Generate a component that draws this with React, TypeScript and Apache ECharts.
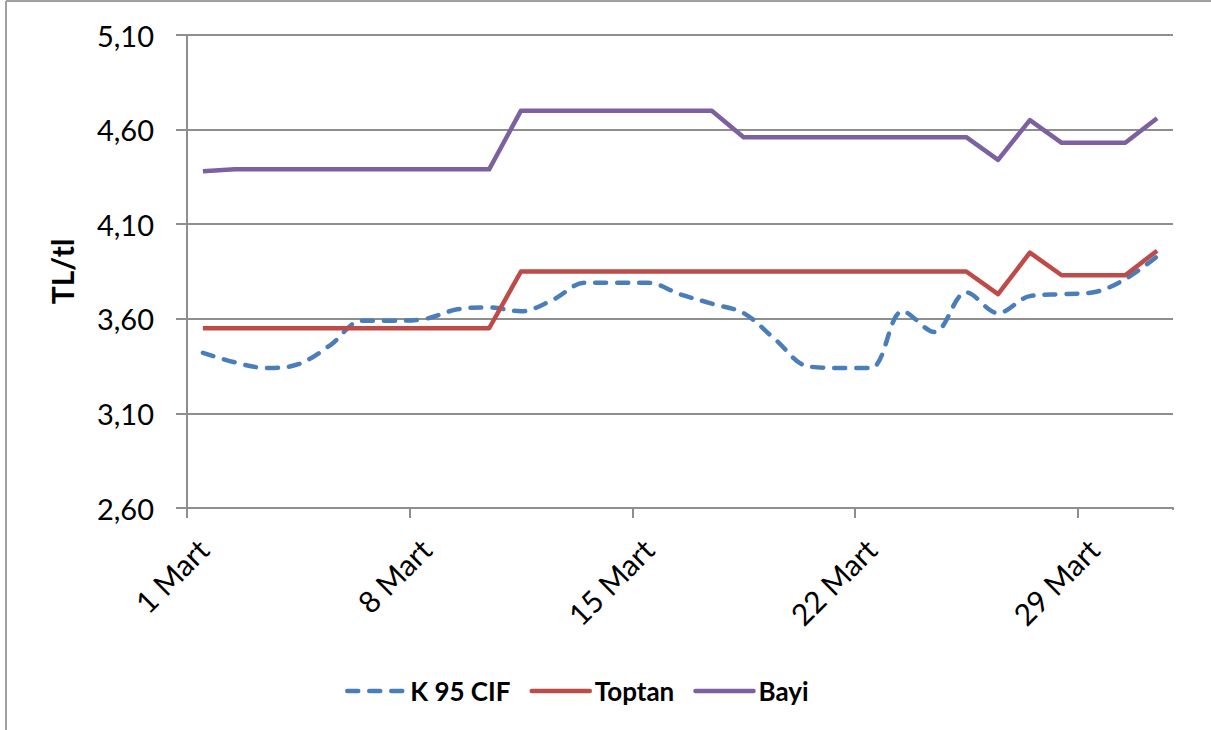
import React, { useEffect, useRef } from "react";
import * as echarts from "echarts";

const categories = [
  "1 Mart", "2 Mart", "3 Mart", "4 Mart", "5 Mart", "6 Mart", "7 Mart", "8 Mart",
  "9 Mart", "10 Mart", "11 Mart", "12 Mart", "13 Mart", "14 Mart", "15 Mart", "16 Mart",
  "17 Mart", "18 Mart", "19 Mart", "20 Mart", "21 Mart", "22 Mart", "23 Mart", "24 Mart",
  "25 Mart", "26 Mart", "27 Mart", "28 Mart", "29 Mart", "30 Mart", "31 Mart",
];

const k95Cif = [
  3.42, 3.37, 3.34, 3.36, 3.46, 3.59, 3.59, 3.6, 3.65, 3.66, 3.64, 3.7, 3.79, 3.79, 3.79, 3.73,
  3.68, 3.63, 3.49, 3.35, 3.34, 3.34, 3.64, 3.53, 3.74, 3.63, 3.72, 3.73, 3.74, 3.81, 3.93,
];

const toptan = [
  3.55, 3.55, 3.55, 3.55, 3.55, 3.55, 3.55, 3.55, 3.55, 3.55, 3.85, 3.85, 3.85, 3.85, 3.85, 3.85,
  3.85, 3.85, 3.85, 3.85, 3.85, 3.85, 3.85, 3.85, 3.85, 3.73, 3.95, 3.83, 3.83, 3.83, 3.96,
];

const bayi = [
  4.38, 4.39, 4.39, 4.39, 4.39, 4.39, 4.39, 4.39, 4.39, 4.39, 4.7, 4.7, 4.7, 4.7, 4.7, 4.7,
  4.7, 4.56, 4.56, 4.56, 4.56, 4.56, 4.56, 4.56, 4.56, 4.44, 4.65, 4.53, 4.53, 4.53, 4.66,
];

const seriesNames = ["K 95 CIF", "Toptan", "Bayi"];
const yAxisTitle = "TL/tl";

const FONT = "Lato, 'Open Sans', sans-serif";
const GRID_COLOR = "#8e8e8e";

export default function App() {
  const ref = useRef<HTMLDivElement>(null);

  useEffect(() => {
    if (!ref.current) return;
    const chart = echarts.init(ref.current, null, { renderer: "svg" });
    chart.setOption({
      animation: false,
      backgroundColor: "#ffffff",
      textStyle: { fontFamily: FONT },
      graphic: [
        {
          type: "line",
          shape: { x1: 6, y1: 1, x2: 1211, y2: 1 },
          style: { stroke: "#a0a0a0", lineWidth: 2 },
        },
        {
          type: "line",
          shape: { x1: 6, y1: 1, x2: 6, y2: 730 },
          style: { stroke: "#a0a0a0", lineWidth: 2 },
        },
        {
          type: "rect",
          z: 100,
          shape: { x: 1169, y: 510, width: 8, height: 12 },
          style: { fill: "#ffffff" },
        },
      ],
      grid: { left: 187, right: 38, top: 35, bottom: 222, containLabel: false },
      legend: {
        left: 340,
        top: 673,
        itemWidth: 58,
        itemHeight: 4,
        itemGap: 19,
        itemStyle: { opacity: 0 },
        lineStyle: { width: 4.5, cap: "round" },
        textStyle: { fontFamily: FONT, fontSize: 26, fontWeight: "bold", color: "#000" },
        data: seriesNames,
      },
      xAxis: {
        type: "category",
        data: categories,
        boundaryGap: true,
        axisLine: { lineStyle: { color: GRID_COLOR, width: 2 } },
        axisTick: { show: true, interval: 6, length: 10, lineStyle: { color: GRID_COLOR, width: 2 } },
        axisLabel: {
          interval: 6,
          rotate: 45,
          margin: 36,
          fontSize: 30,
          color: "#000",
          fontFamily: FONT,
        },
        splitLine: { show: false },
      },
      yAxis: {
        type: "value",
        min: 2.6,
        max: 5.1,
        interval: 0.5,
        name: yAxisTitle,
        nameLocation: "middle",
        nameRotate: 90,
        nameGap: 110,
        nameTextStyle: { fontFamily: FONT, fontSize: 30, fontWeight: "bold", color: "#000" },
        axisLine: { show: true, lineStyle: { color: GRID_COLOR, width: 2 } },
        axisTick: { show: true, inside: false, length: 11, lineStyle: { color: GRID_COLOR, width: 2 } },
        axisLabel: {
          margin: 33,
          fontSize: 29,
          color: "#000",
          fontFamily: FONT,
          formatter: (v: number) => v.toFixed(2).replace(".", ","),
        },
        splitLine: { show: true, lineStyle: { color: GRID_COLOR, width: 2 } },
      },
      series: [
        {
          name: seriesNames[0],
          type: "line",
          data: k95Cif,
          smooth: 0.35,
          symbol: "none",
          showSymbol: false,
          lineStyle: { color: "#4a7ebb", width: 4.5, type: [11, 11], cap: "round" },
          itemStyle: { color: "#4a7ebb" },
        },
        {
          name: seriesNames[1],
          type: "line",
          data: toptan,
          symbol: "none",
          showSymbol: false,
          lineStyle: { color: "#be4b48", width: 4.5, join: "round" },
          itemStyle: { color: "#be4b48" },
        },
        {
          name: seriesNames[2],
          type: "line",
          data: bayi,
          symbol: "none",
          showSymbol: false,
          lineStyle: { color: "#7d60a0", width: 4.5, join: "round" },
          itemStyle: { color: "#7d60a0" },
        },
      ],
    });
    return () => chart.dispose();
  }, []);

  return (
    <div
      ref={ref}
      style={{ position: "absolute", left: 0, top: 0, width: 1211, height: 730 }}
    />
  );
}
